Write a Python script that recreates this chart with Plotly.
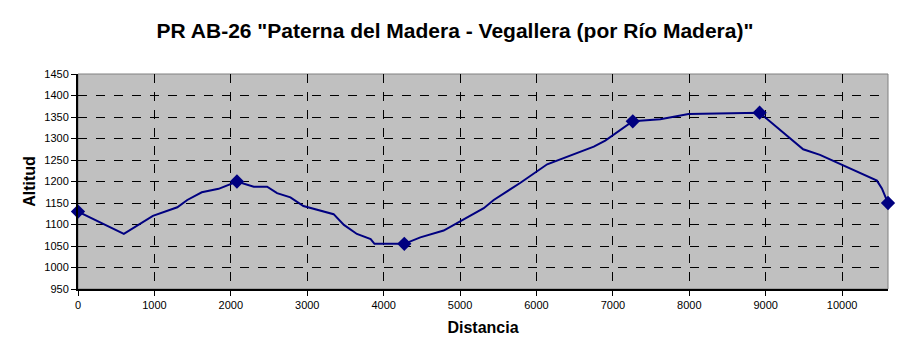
import plotly.graph_objects as go

# Profile (distance in m, altitude in m)
distancia = [0, 600, 980, 1300, 1430, 1620, 1840, 2080, 2300, 2475, 2605, 2780, 2950,
             3130, 3345, 3480, 3650, 3830, 3880, 4270, 4480, 4785, 4960, 5310, 5440,
             5790, 6140, 6355, 6750, 6900, 7260, 7620, 7990, 8920, 9490, 9710, 10455,
             10520, 10600]
altitud = [1130, 1078, 1120, 1140, 1157, 1175, 1183, 1200, 1188, 1188, 1173, 1163, 1143,
           1134, 1124, 1099, 1078, 1066, 1055, 1055, 1070, 1086, 1103, 1138, 1157,
           1197, 1240, 1254, 1281, 1295, 1340, 1345, 1357, 1360, 1275, 1262, 1202,
           1184, 1150]

# Highlighted waypoints
hito_dist = [0, 2080, 4270, 7260, 8920, 10600]
hito_alt = [1130, 1200, 1055, 1340, 1360, 1150]

x_ticks = [0, 1000, 2000, 3000, 4000, 5000, 6000, 7000, 8000, 9000, 10000]
y_ticks = [950, 1000, 1050, 1100, 1150, 1200, 1250, 1300, 1350, 1400, 1450]

FONT = "Liberation Sans, Arial, sans-serif"

# The page body has an 8px margin, so the figure is sized to fit the window.
W, H = 902, 351

fig = go.Figure()
fig.add_trace(go.Scatter(x=distancia, y=altitud, mode="lines",
                         line=dict(color="#000080", width=2), showlegend=False,
                         cliponaxis=False))
fig.add_trace(go.Scatter(x=hito_dist, y=hito_alt, mode="markers",
                         marker=dict(symbol="diamond", size=11, color="#000080"),
                         showlegend=False, cliponaxis=False))

fig.update_layout(
    width=W, height=H,
    margin=dict(l=70, r=22, t=66, b=70),
    paper_bgcolor="white", plot_bgcolor="#C0C0C0",
    font=dict(family=FONT, color="black", size=11),
    title=dict(text='<b>PR AB-26 "Paterna del Madera - Vegallera (por Río Madera)"</b>',
               x=(455 - 8) / W, xanchor="center", y=1 - 23 / H, yanchor="middle",
               font=dict(size=21, family=FONT)),
    xaxis=dict(range=[0, 10600], tickvals=x_ticks, ticktext=[str(v) for v in x_ticks],
               showgrid=True, gridcolor="black", griddash="dash", gridwidth=1,
               showline=True, linecolor="black", linewidth=2,
               ticks="outside", ticklen=5, tickcolor="black", tickwidth=1,
               zeroline=False, mirror=False, automargin=False,
               title=dict(text="<b>Distancia</b>", font=dict(size=16), standoff=12),
               tickfont=dict(size=11)),
    yaxis=dict(range=[950, 1450], tickvals=y_ticks, ticktext=[str(v) for v in y_ticks],
               showgrid=True, gridcolor="black", griddash="dash", gridwidth=1,
               showline=True, linecolor="black", linewidth=2,
               ticks="outside", ticklen=5, tickcolor="black", tickwidth=1,
               zeroline=False, automargin=False,
               title=dict(text="<b>Altitud</b>", font=dict(size=16), standoff=5),
               tickfont=dict(size=11)),
    shapes=[dict(type="rect", xref="paper", yref="paper", x0=0, x1=1, y0=0, y1=1,
                 line=dict(color="#808080", width=1), layer="below")],
)

fig.write_html("out.html")
